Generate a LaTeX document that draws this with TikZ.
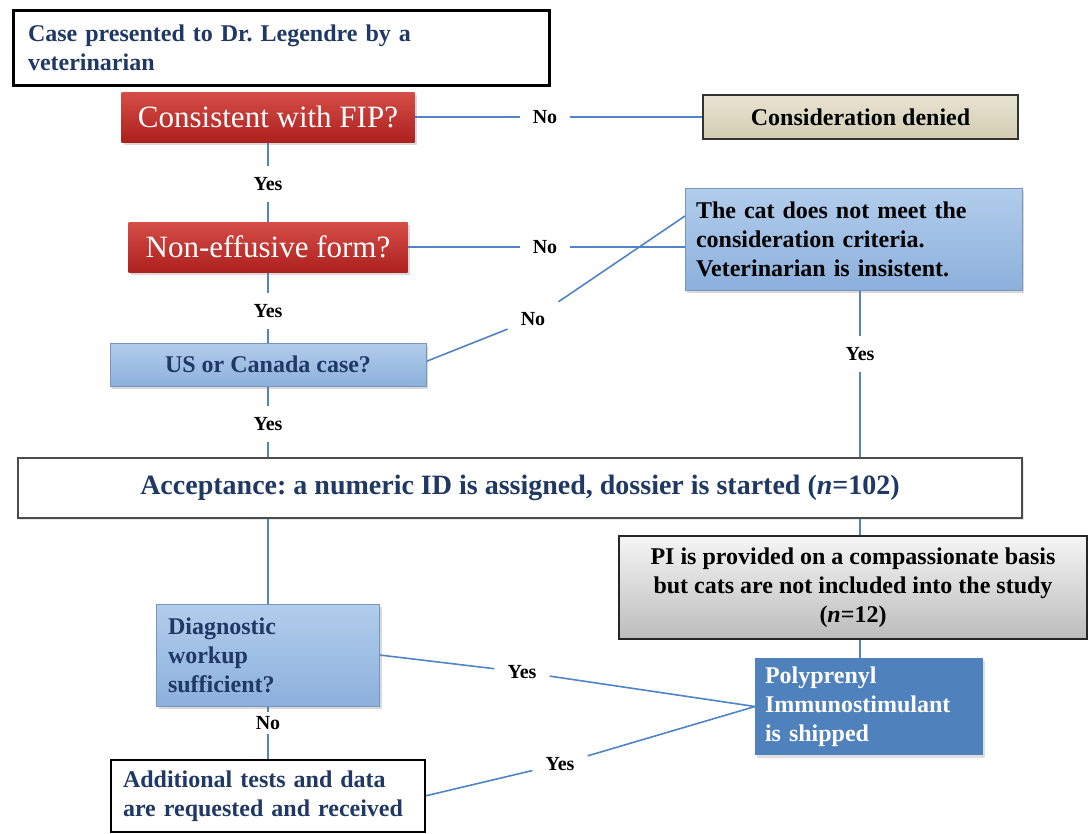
\documentclass[tikz,border=0pt]{standalone}
\usepackage{fontspec}
\setmainfont{Liberation Serif}
\usetikzlibrary{backgrounds,shadows}
\frenchspacing
\definecolor{lineblue}{RGB}{80,132,198}
\definecolor{navy}{RGB}{31,56,100}
\definecolor{redtop}{RGB}{214,78,72}
\definecolor{redbot}{RGB}{172,32,30}
\definecolor{lbtop}{RGB}{178,205,236}
\definecolor{lbbot}{RGB}{140,176,220}
\definecolor{tantop}{RGB}{232,228,210}
\definecolor{tanbot}{RGB}{210,204,178}
\definecolor{grtop}{RGB}{245,245,245}
\definecolor{grbot}{RGB}{188,188,188}
\definecolor{midblue}{RGB}{79,129,189}
\tikzset{
  conn/.style={draw=lineblue, line width=1.6pt},
  lab/.style={font=\fontsize{20}{22}\selectfont\bfseries, fill=white, inner xsep=13pt, inner ysep=11pt, text=black},
  base/.style={rectangle, inner sep=0pt, outer sep=0pt},
  bigtxt/.style={font=\fontsize{24}{29}\selectfont\bfseries},
  redbox/.style={base, top color=redtop, bottom color=redbot, text=white,
     font=\fontsize{31}{36}\selectfont, drop shadow={opacity=0.3, shadow xshift=2pt, shadow yshift=-3pt}},
  lbbox/.style={base, bigtxt, top color=lbtop, bottom color=lbbot, draw=lbbot!85!black, line width=0.6pt,
     drop shadow={opacity=0.3, shadow xshift=2pt, shadow yshift=-3pt}},
  wbox/.style={base, bigtxt, fill=white, draw=black, text=navy},
}
\begin{document}
\begin{tikzpicture}[x=1pt, y=-1pt]
\useasboundingbox (0,0) rectangle (1089,833);
\coordinate (colR) at (860,0);
% nodes
\node[wbox, line width=3pt, minimum width=536, minimum height=75, text width=506, align=left]
  (case) at (281,47.5) {Case presented to Dr. Legendre by a\\veterinarian};
\node[redbox, minimum width=293, minimum height=50] (fip) at (268,117) {Consistent with FIP?};
\node[base, bigtxt, top color=tantop, bottom color=tanbot, draw=black!80, line width=1.5pt,
  minimum width=315, minimum height=44] (deny) at (860.5,117) {Consideration denied};
\node[redbox, minimum width=279, minimum height=50] (noneff) at (268,247) {Non-effusive form?};
\node[lbbox, text=black, minimum width=337, minimum height=102, text width=315, align=left]
  (cat) at (853.5,239) {The cat does not meet the\\consideration criteria.\\Veterinarian is insistent.};
\node[lbbox, text=navy, minimum width=316, minimum height=43] (us) at (268,364.5) {US or Canada case?};
\node[wbox, draw=black!70, line width=1.3pt, minimum width=1004, minimum height=60,
  font=\fontsize{28}{32}\selectfont\bfseries,
  drop shadow={opacity=0.2, shadow xshift=2pt, shadow yshift=-2pt}]
  (acc) at (520,488) {Acceptance: a numeric ID is assigned, dossier is started (\textit{n}=102)};
\node[base, bigtxt, top color=grtop, bottom color=grbot, draw=black!85, line width=1.8pt,
  minimum width=468, minimum height=103, align=center, text=black]
  (pi) at (853,587.5) {PI is provided on a compassionate basis\\but cats are not included into the study\\(\textit{n}=12)};
\node[lbbox, text=navy, minimum width=223, minimum height=102, text width=200, align=left]
  (diag) at (268,655) {Diagnostic\\workup\\sufficient?};
\node[base, bigtxt, fill=midblue, text=white, minimum width=228, minimum height=97, text width=208, align=left,
  drop shadow={opacity=0.25, shadow xshift=2pt, shadow yshift=-3pt}]
  (poly) at (869,706.5) {Polyprenyl\\Immunostimulant\\is shipped};
\node[wbox, line width=2pt, minimum width=314, minimum height=72, text width=290, align=left]
  (add) at (268,796) {Additional tests and data\\are requested and received};
% labels
\node[lab] (n1) at (545,117) {No};
\node[lab] (y1) at (268,184) {Yes};
\node[lab] (n2) at (545,247) {No};
\node[lab] (y2) at (268,311) {Yes};
\node[lab] (n3) at (533,319) {No};
\node[lab] (y3) at (268,424) {Yes};
\node[lab] (y4) at (860,354) {Yes};
\node[lab] (y5) at (522,672) {Yes};
\node[lab, inner ysep=4pt] (n4) at (268,723) {No};
\node[lab] (y6) at (560,764) {Yes};
% connectors
\begin{pgfonlayer}{background}
\draw[conn] (fip.east) -- (n1) -- (deny.west);
\draw[conn] (fip.south) -- (y1) -- (noneff.north);
\draw[conn] (noneff.east) -- (n2) -- (noneff.east -| cat.west);
\draw[conn] (noneff.south) -- (y2) -- (us.north);
\draw[conn] ([yshift=3]us.east) -- (n3) -- ([yshift=23]cat.west);
\draw[conn] (us.south) -- (y3) -- (acc.north -| us.south);
\draw[conn] (cat.south -| colR) -- (y4) -- (pi.north -| colR);
\draw[conn] (pi.south -| colR) -- (poly.north -| colR);
\draw[conn] (acc.south -| diag.north) -- (diag.north);
\draw[conn] (diag.east) -- (y5) -- (poly.west);
\draw[conn] (diag.south) -- (n4) -- (add.north);
\draw[conn] (add.east) -- (y6) -- (poly.west);
\end{pgfonlayer}
\end{tikzpicture}
\end{document}
